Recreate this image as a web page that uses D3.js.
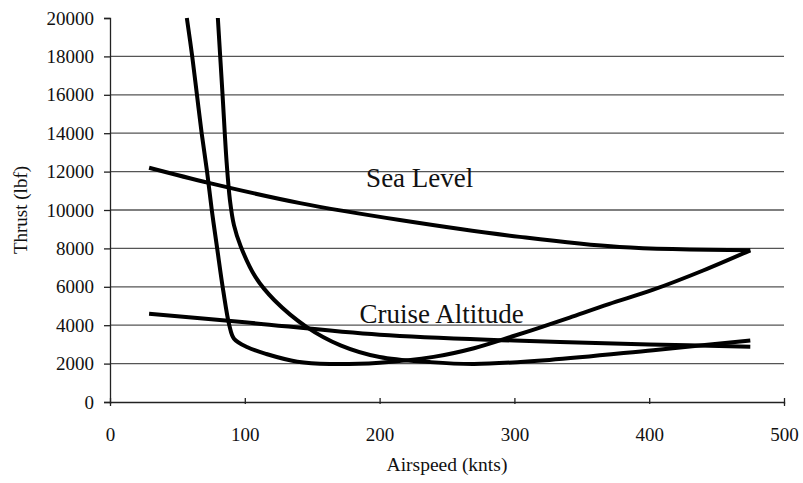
<!DOCTYPE html>
<html>
<head>
<meta charset="utf-8">
<script src="https://cdn.jsdelivr.net/npm/d3@7"></script>
<style>
  html, body { margin: 0; padding: 0; background: #fff; }
  svg { display: block; }
  text { font-family: "Liberation Serif", "Times New Roman", serif; fill: #111; }
</style>
</head>
<body>
<svg id="chart" width="803" height="483"></svg>
<script>
// ---- Data ----
const xTicks = [0, 100, 200, 300, 400, 500];
const yTicks = [0, 2000, 4000, 6000, 8000, 10000, 12000, 14000, 16000, 18000, 20000];

// Sea level thrust available
const seaThrustV = [29, 74, 141, 215, 304, 378, 475];
const seaThrustT = [12200, 11400, 10360, 9480, 8600, 8070, 7900];

// Sea level thrust required (drag)
const seaDragV = [57, 61, 64.5, 68, 72, 75.5, 79.5, 84, 88.5, 92, 102, 116, 139, 163, 200, 240, 270, 300, 320, 341, 370, 403, 440, 475];
const seaDragT = [20000, 18000, 16000, 14000, 12000, 10000, 8000, 5800, 4000, 3300, 2850, 2500, 2100, 1980, 2050, 2350, 2800, 3450, 3900, 4400, 5100, 5850, 6850, 7900];

// Cruise altitude thrust available
const cruiseThrustV = [29, 100, 200, 300, 400, 475];
const cruiseThrustT = [4600, 4150, 3500, 3200, 3000, 2880];

// Cruise altitude thrust required (drag)
const cruiseDragV = [80, 83.5, 86.5, 89, 92, 97, 108, 122, 146, 171, 200, 237, 270, 326, 403, 475];
const cruiseDragT = [20000, 16000, 12500, 10500, 9200, 8100, 6500, 5300, 3900, 2950, 2340, 2080, 1980, 2190, 2700, 3200];

const labels = [
  { text: "Sea Level", v: 190, t: 11200 },
  { text: "Cruise Altitude", v: 185, t: 4120 }
];

// ---- Chart ----
const svg = d3.select("#chart");
const x = d3.scaleLinear().domain([0, 500]).range([110, 784]);
const y = d3.scaleLinear().domain([0, 20000]).range([402, 18]);

// gridlines
svg.append("g").selectAll("line")
  .data(yTicks.filter(d => d > 0 && d < 20000))
  .join("line")
  .attr("x1", x(0)).attr("x2", x(500))
  .attr("y1", d => y(d)).attr("y2", d => y(d))
  .attr("stroke", "#555").attr("stroke-width", 1.3);

// y axis
const yAxis = d3.axisLeft(y).tickValues(yTicks).tickSize(6).tickPadding(10).tickFormat(d3.format("d"));
const gy = svg.append("g").attr("transform", `translate(${x(0)},0)`).call(yAxis);
gy.select(".domain").attr("stroke", "#222").attr("stroke-width", 1.3);
gy.selectAll(".tick line").attr("stroke", "#222").attr("stroke-width", 1.3);
gy.selectAll(".tick text").style("font-size", "19px").attr("fill", "#111");

// x axis
const xAxis = d3.axisBottom(x).tickValues(xTicks).tickSize(4).tickPadding(22).tickFormat(d3.format("d"));
const gx = svg.append("g").attr("transform", `translate(0,${y(0)})`).call(xAxis);
gx.select(".domain").attr("stroke", "#222").attr("stroke-width", 1.3);
gx.selectAll(".tick line").attr("stroke", "#222").attr("stroke-width", 1.3).attr("y1", -4).attr("y2", 2);
gx.selectAll(".tick text").style("font-size", "19px").attr("fill", "#111");

// axis titles
svg.append("text")
  .attr("x", 447).attr("y", 471)
  .attr("text-anchor", "middle")
  .style("font-size", "19.5px")
  .text("Airspeed (knts)");
svg.append("text")
  .attr("transform", "translate(27,210) rotate(-90)")
  .attr("text-anchor", "middle")
  .style("font-size", "19px")
  .text("Thrust (lbf)");

// curves
const line = d3.line()
  .x(d => x(d[0])).y(d => y(d[1]))
  .curve(d3.curveCatmullRom.alpha(0.5));

const series = [
  d3.zip(seaThrustV, seaThrustT),
  d3.zip(seaDragV, seaDragT),
  d3.zip(cruiseThrustV, cruiseThrustT),
  d3.zip(cruiseDragV, cruiseDragT)
];

svg.append("g").selectAll("path")
  .data(series)
  .join("path")
  .attr("d", line)
  .attr("fill", "none")
  .attr("stroke", "#000")
  .attr("stroke-width", 4)
  .attr("stroke-linejoin", "round");

// labels
svg.append("g").selectAll("text")
  .data(labels)
  .join("text")
  .attr("x", d => x(d.v)).attr("y", d => y(d.t))
  .style("font-size", "27px")
  .text(d => d.text);
</script>
</body>
</html>
